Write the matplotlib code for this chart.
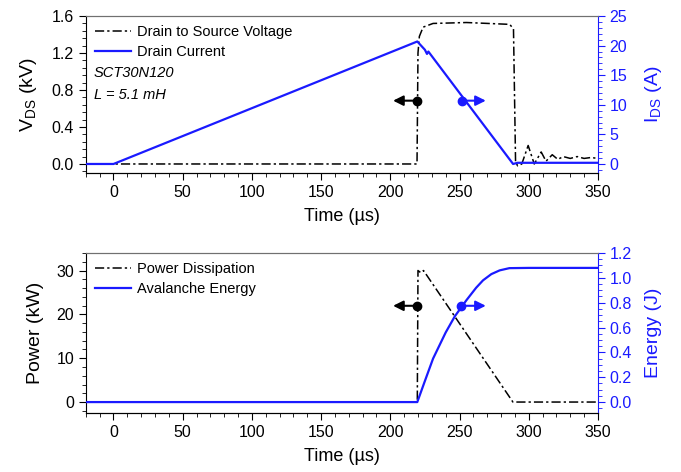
import matplotlib
matplotlib.use("Agg")
import matplotlib.pyplot as plt
from matplotlib.ticker import MultipleLocator

plt.rcParams['font.family'] = ['Liberation Sans', 'DejaVu Sans']
plt.rcParams['mathtext.fontset'] = 'custom'
plt.rcParams['mathtext.rm'] = 'Liberation Sans'

# top panel: drain-source voltage (kV) and drain current (A)
vds_t = [-20, 0, 50, 100, 150, 200, 219.3, 220, 221, 223.7, 230.9, 255, 286.3, 289, 290.5,
         292, 295, 299.6, 304, 309, 312.5, 317, 321, 325, 330, 335, 340, 345, 350]
vds_v = [0, 0, 0, 0, 0, 0, 0, 1.2, 1.38, 1.48, 1.52, 1.53, 1.51, 1.46, 0.02,
         -0.02, 0.0, 0.2, 0.0, 0.13, 0.03, 0.1, 0.05, 0.08, 0.06, 0.08, 0.06, 0.07, 0.06]
ids_t = [-20, 0, 219.5, 225, 226.5, 227.5, 288.7, 292, 350]
ids_v = [0, 0, 20.7, 19.3, 18.6, 19.0, 0, 0.2, 0.2]

# bottom panel: power (kW) and energy (J)
p_t = [-20, 0, 100, 200, 219.5, 220, 222, 224, 288.6, 300, 350]
p_v = [0, 0, 0, 0, 0, 30, 29.5, 30, 0, 0, 0]
e_t = [-20, 0, 100, 200, 219.5, 225, 230.9, 240, 246.6, 255, 262, 267, 273, 279, 286, 300, 350]
e_v = [0, 0, 0, 0, 0, 0.17, 0.35, 0.56, 0.69, 0.82, 0.92, 0.98, 1.03, 1.06, 1.078, 1.08, 1.08]

blue = '#1a1aff'

fig = plt.figure(figsize=(6.81, 4.72), dpi=100)
ax1 = fig.add_axes([0.126, 0.633, 0.752, 0.333])
ax2 = fig.add_axes([0.126, 0.125, 0.752, 0.339])


def style(ax, axr):
    ax.set_xlim(-20, 350)
    ax.xaxis.set_major_locator(MultipleLocator(50))
    ax.xaxis.set_minor_locator(MultipleLocator(10))
    ax.tick_params(which='both', direction='out', labelsize=11.5)
    ax.tick_params(which='major', length=5)
    ax.tick_params(which='minor', length=3)
    ax.spines['top'].set_color('#707070')
    ax.spines['right'].set_visible(False)
    axr.spines['right'].set_color(blue)
    axr.spines['left'].set_visible(False)
    axr.spines['top'].set_color('#707070')
    axr.tick_params(which='both', direction='out', colors=blue, labelsize=11.5)
    axr.tick_params(which='major', length=5)
    axr.tick_params(which='minor', length=3)
    ax.set_xlabel('Time (µs)', fontsize=13, labelpad=6)


def arrows(ax, y, x_black, x_blue):
    ax.annotate('', xy=(200, y), xytext=(x_black, y),
                arrowprops=dict(arrowstyle='-|>', color='black', lw=1.5, mutation_scale=15))
    ax.plot([x_black], [y], 'o', color='black', markersize=6)
    ax.annotate('', xy=(271, y), xytext=(x_blue, y),
                arrowprops=dict(arrowstyle='-|>', color=blue, lw=1.5, mutation_scale=15))
    ax.plot([x_blue], [y], 'o', color=blue, markersize=6)


# ---- top ----
ax1r = ax1.twinx()
l1, = ax1.plot(vds_t, vds_v, color='black', linestyle=(0, (6, 2, 1.5, 2)), linewidth=1.1,
               label='Drain to Source Voltage')
l2, = ax1r.plot(ids_t, ids_v, color=blue, linewidth=1.6, label='Drain Current')
ax1.set_ylim(-0.1, 1.6)
ax1r.set_ylim(-25 / 16, 25)
ax1.yaxis.set_major_locator(MultipleLocator(0.4))
ax1.yaxis.set_minor_locator(MultipleLocator(0.08))
ax1r.yaxis.set_major_locator(MultipleLocator(5))
ax1r.yaxis.set_minor_locator(MultipleLocator(1))
style(ax1, ax1r)
ax1.set_ylabel(r'V$_\mathregular{DS}$ (kV)', fontsize=14, labelpad=9)
ax1r.set_ylabel(r'I$_\mathregular{DS}$ (A)', fontsize=14, color=blue, labelpad=11)
ax1r.legend([l1, l2], [l1.get_label(), l2.get_label()], loc='upper left', frameon=False,
            fontsize=10.5, handlelength=2.5, borderaxespad=0.2, handletextpad=0.4,
            labelspacing=0.45)
ax1.text(0.016, 0.64, 'SCT30N120', transform=ax1.transAxes, style='italic', fontsize=10.5,
         va='center')
ax1.text(0.016, 0.50, 'L = 5.1 mH', transform=ax1.transAxes, style='italic', fontsize=10.5,
         va='center')
arrows(ax1r, 10.7, 219.6, 251.9)

# ---- bottom ----
ax2r = ax2.twinx()
l3, = ax2.plot(p_t, p_v, color='black', linestyle=(0, (6, 2, 1.5, 2)), linewidth=1.1,
               label='Power Dissipation')
l4, = ax2r.plot(e_t, e_v, color=blue, linewidth=1.6, label='Avalanche Energy')
ax2.set_ylim(-2.5, 34)
ax2r.set_ylim(-0.088, 1.2)
ax2.yaxis.set_major_locator(MultipleLocator(10))
ax2.yaxis.set_minor_locator(MultipleLocator(2))
ax2r.yaxis.set_major_locator(MultipleLocator(0.2))
ax2r.yaxis.set_minor_locator(MultipleLocator(0.05))
style(ax2, ax2r)
ax2.set_ylabel('Power (kW)', fontsize=14, labelpad=9)
ax2r.set_ylabel('Energy (J)', fontsize=14, color=blue, labelpad=9)
ax2r.legend([l3, l4], [l3.get_label(), l4.get_label()], loc='upper left', frameon=False,
            fontsize=10.5, handlelength=2.5, borderaxespad=0.2, handletextpad=0.4,
            labelspacing=0.45)
arrows(ax2r, 0.775, 219.6, 251.4)

fig.savefig('out.png', dpi=100)
